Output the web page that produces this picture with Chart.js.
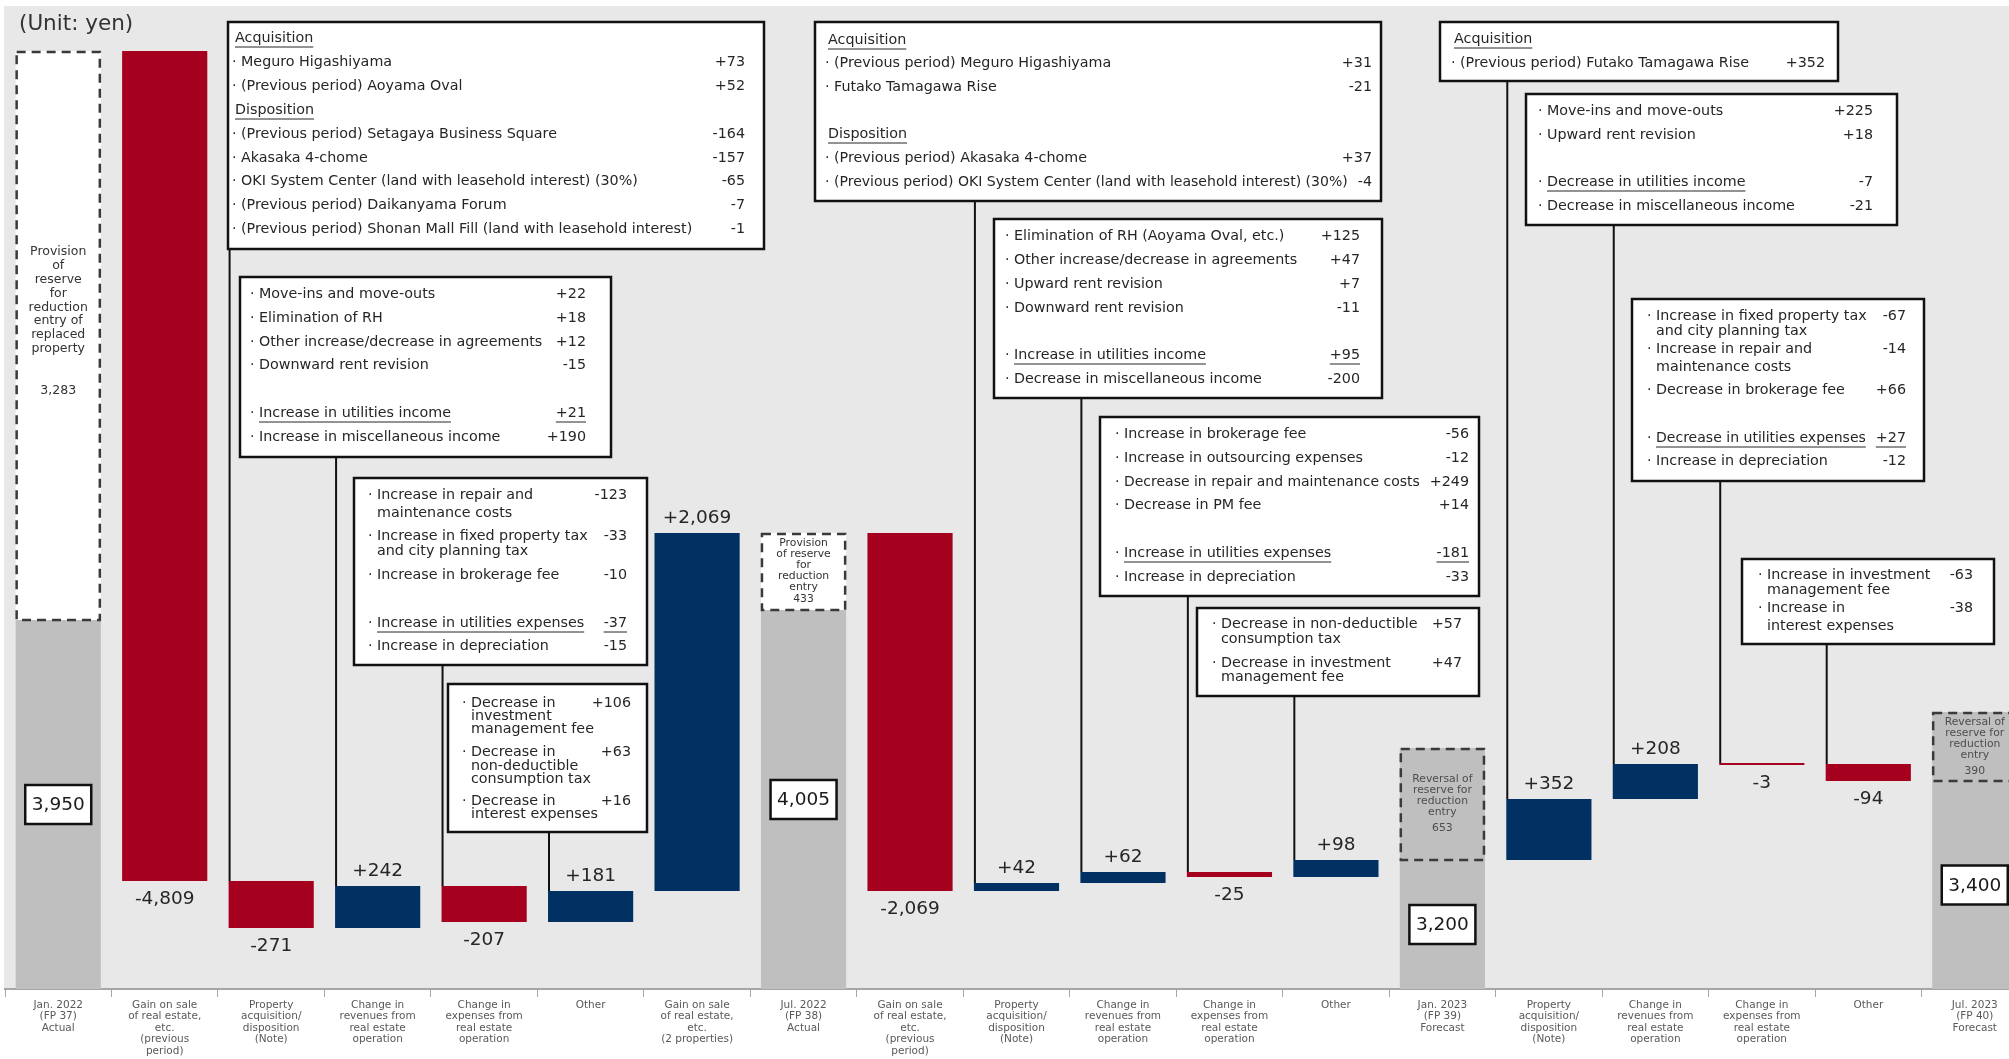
<!DOCTYPE html>
<html>
<head>
<meta charset="utf-8">
<script src="https://cdn.jsdelivr.net/npm/chart.js@4/dist/chart.umd.min.js"></script>
<style>
  body { margin: 0; background: #fff; overflow: hidden; }
  #wrap { width: 2028px; height: 1059px; }
  canvas { display: block; }
</style>
</head>
<body>
<div id="wrap"><canvas id="chart" width="2028" height="1059"></canvas></div>
<script>
// --- data ---
const categories = [
    ['Jan. 2022', '(FP 37)', 'Actual'],
    ['Gain on sale', 'of real estate,', 'etc.', '(previous', 'period)'],
    ['Property', 'acquisition/', 'disposition', '(Note)'],
    ['Change in', 'revenues from', 'real estate', 'operation'],
    ['Change in', 'expenses from', 'real estate', 'operation'],
    ['Other'],
    ['Gain on sale', 'of real estate,', 'etc.', '(2 properties)'],
    ['Jul. 2022', '(FP 38)', 'Actual'],
    ['Gain on sale', 'of real estate,', 'etc.', '(previous', 'period)'],
    ['Property', 'acquisition/', 'disposition', '(Note)'],
    ['Change in', 'revenues from', 'real estate', 'operation'],
    ['Change in', 'expenses from', 'real estate', 'operation'],
    ['Other'],
    ['Jan. 2023', '(FP 39)', 'Forecast'],
    ['Property', 'acquisition/', 'disposition', '(Note)'],
    ['Change in', 'revenues from', 'real estate', 'operation'],
    ['Change in', 'expenses from', 'real estate', 'operation'],
    ['Other'],
    ['Jul. 2023', '(FP 40)', 'Forecast']
];

// distribution per unit (yen)
const totals   = [3950, null, null, null, null, null, null, 4005, null, null, null, null, null, 3200, null, null, null, null, 3400];
const deltas   = [null, -4809, -271, 242, -207, 181, 2069, null, -2069, 42, 62, -25, 98, null, 352, 208, -3, -94, null];
const reserves = [3283, null, null, null, null, null, null, 433, null, null, null, null, null, 653, null, null, null, null, 390];

// the picture is not drawn to scale: drawn levels of every bar
const barLow      = [0, 108, 61, 61, 67, 67, 98, 0, 98, 98, 106, 112, 112, 0, 129, 190, 224, 208, 0];
const barHigh     = [369, 938, 108, 103, 103, 98, 456, 379, 456, 106, 117, 117, 129, 129, 190, 225, 226, 225, 208];
const reserveLow  = [369, null, null, null, null, null, null, 379, null, null, null, null, null, 129, null, null, null, null, 208];
const reserveHigh = [938, null, null, null, null, null, null, 456, null, null, null, null, null, 241, null, null, null, null, 277];

const reserveCaptions = {
    0: ['Provision', 'of', 'reserve', 'for', 'reduction', 'entry of', 'replaced', 'property'],
    7: ['Provision', 'of reserve', 'for', 'reduction', 'entry'],
    13: ['Reversal of', 'reserve for', 'reduction', 'entry'],
    18: ['Reversal of', 'reserve for', 'reduction', 'entry']
};

const RED = '#a6001f', BLUE = '#003162', GREY = '#bfbfbf';
const FONT = '"DejaVu Sans", Verdana, sans-serif';

// breakdown boxes: [y, text, value, flag]  h = heading, c = continued line, u = underline text, U = underline text+value
const boxes = [
    { bar: 2, x: 228, y: 22, w: 536, h: 227, bx: 232, vx: 745, rows: [
        [38, 'Acquisition', '', 'h'],
        [62, 'Meguro Higashiyama', '+73'],
        [86, '(Previous period) Aoyama Oval', '+52'],
        [110, 'Disposition', '', 'h'],
        [134, '(Previous period) Setagaya Business Square', '-164'],
        [158, 'Akasaka 4-chome', '-157'],
        [181, 'OKI System Center (land with leasehold interest) (30%)', '-65'],
        [205, '(Previous period) Daikanyama Forum', '-7'],
        [229, '(Previous period) Shonan Mall Fill (land with leasehold interest)', '-1']
    ]},
    { bar: 3, x: 240, y: 277, w: 371, h: 180, bx: 250, vx: 586, rows: [
        [294, 'Move-ins and move-outs', '+22'],
        [318, 'Elimination of RH', '+18'],
        [342, 'Other increase/decrease in agreements', '+12'],
        [365, 'Downward rent revision', '-15'],
        [413, 'Increase in utilities income', '+21', 'U'],
        [437, 'Increase in miscellaneous income', '+190']
    ]},
    { bar: 4, x: 354, y: 478, w: 293, h: 187, bx: 368, vx: 627, rows: [
        [495, 'Increase in repair and', '-123'],
        [513, 'maintenance costs', '', 'c'],
        [536, 'Increase in fixed property tax', '-33'],
        [551, 'and city planning tax', '', 'c'],
        [575, 'Increase in brokerage fee', '-10'],
        [623, 'Increase in utilities expenses', '-37', 'U'],
        [646, 'Increase in depreciation', '-15']
    ]},
    { bar: 5, x: 448, y: 684, w: 199, h: 148, bx: 462, vx: 631, rows: [
        [703, 'Decrease in', '+106'],
        [716, 'investment', '', 'c'],
        [729, 'management fee', '', 'c'],
        [752, 'Decrease in', '+63'],
        [766, 'non-deductible', '', 'c'],
        [779, 'consumption tax', '', 'c'],
        [801, 'Decrease in', '+16'],
        [814, 'interest expenses', '', 'c']
    ]},
    { bar: 9, x: 815, y: 22, w: 566, h: 179, bx: 825, vx: 1372, rows: [
        [40, 'Acquisition', '', 'h'],
        [63, '(Previous period) Meguro Higashiyama', '+31'],
        [87, 'Futako Tamagawa Rise', '-21'],
        [134, 'Disposition', '', 'h'],
        [158, '(Previous period) Akasaka 4-chome', '+37'],
        [182, '(Previous period) OKI System Center (land with leasehold interest) (30%)', '-4']
    ]},
    { bar: 10, x: 994, y: 219, w: 388, h: 179, bx: 1005, vx: 1360, rows: [
        [236, 'Elimination of RH (Aoyama Oval, etc.)', '+125'],
        [260, 'Other increase/decrease in agreements', '+47'],
        [284, 'Upward rent revision', '+7'],
        [308, 'Downward rent revision', '-11'],
        [355, 'Increase in utilities income', '+95', 'U'],
        [379, 'Decrease in miscellaneous income', '-200']
    ]},
    { bar: 11, x: 1100, y: 417, w: 379, h: 179, bx: 1115, vx: 1469, rows: [
        [434, 'Increase in brokerage fee', '-56'],
        [458, 'Increase in outsourcing expenses', '-12'],
        [482, 'Decrease in repair and maintenance costs', '+249'],
        [505, 'Decrease in PM fee', '+14'],
        [553, 'Increase in utilities expenses', '-181', 'U'],
        [577, 'Increase in depreciation', '-33']
    ]},
    { bar: 12, x: 1197, y: 608, w: 282, h: 88, bx: 1212, vx: 1462, rows: [
        [624, 'Decrease in non-deductible', '+57'],
        [639, 'consumption tax', '', 'c'],
        [663, 'Decrease in investment', '+47'],
        [677, 'management fee', '', 'c']
    ]},
    { bar: 14, x: 1440, y: 22, w: 398, h: 59, bx: 1451, vx: 1825, rows: [
        [39, 'Acquisition', '', 'h'],
        [63, '(Previous period) Futako Tamagawa Rise', '+352']
    ]},
    { bar: 15, x: 1526, y: 94, w: 371, h: 131, bx: 1538, vx: 1873, rows: [
        [111, 'Move-ins and move-outs', '+225'],
        [135, 'Upward rent revision', '+18'],
        [182, 'Decrease in utilities income', '-7', 'u'],
        [206, 'Decrease in miscellaneous income', '-21']
    ]},
    { bar: 16, x: 1632, y: 299, w: 292, h: 182, bx: 1647, vx: 1906, rows: [
        [316, 'Increase in fixed property tax', '-67'],
        [331, 'and city planning tax', '', 'c'],
        [349, 'Increase in repair and', '-14'],
        [367, 'maintenance costs', '', 'c'],
        [390, 'Decrease in brokerage fee', '+66'],
        [438, 'Decrease in utilities expenses', '+27', 'U'],
        [461, 'Increase in depreciation', '-12']
    ]},
    { bar: 17, x: 1742, y: 559, w: 252, h: 85, bx: 1758, vx: 1973, rows: [
        [575, 'Increase in investment', '-63'],
        [590, 'management fee', '', 'c'],
        [608, 'Increase in', '-38'],
        [626, 'interest expenses', '', 'c']
    ]}
];

const fmt = v => (v > 0 ? '+' : '') + v.toLocaleString('en-US');

const barColors = barLow.map((_, i) => totals[i] != null ? GREY : (deltas[i] < 0 ? RED : BLUE));
const reserveColors = reserves.map((r, i) => (i === 0 || i === 7) ? '#ffffff' : GREY);

function underline(ctx, x, y, w) {
    ctx.save();
    ctx.lineWidth = 1;
    ctx.strokeStyle = ctx.fillStyle;
    ctx.beginPath(); ctx.moveTo(x, y + 9); ctx.lineTo(x + w, y + 9); ctx.stroke();
    ctx.restore();
}

const backdrop = {
    id: 'backdrop',
    beforeDraw(chart) {
        const { ctx, chartArea: a } = chart;
        ctx.save();
        ctx.fillStyle = '#fff';
        ctx.fillRect(0, 0, chart.width, chart.height);
        ctx.fillStyle = '#e8e8e8';
        ctx.fillRect(a.left - 1, a.top, a.right - a.left + 1, a.bottom - a.top);
        ctx.restore();
    }
};

const annotate = {
    id: 'annotate',
    afterDatasetsDraw(chart) {
        const { ctx } = chart;
        const bars = chart.getDatasetMeta(0).data;
        const res = chart.getDatasetMeta(1).data;
        ctx.save();

        // unit
        ctx.fillStyle = '#333';
        ctx.font = '21.5px ' + FONT;
        ctx.textBaseline = 'middle';
        ctx.textAlign = 'left';
        ctx.fillText('(Unit: yen)', 19, 24);

        // reserve boxes (dashed)
        reserves.forEach((r, i) => {
            if (r == null) return;
            const el = res[i];
            const top = Math.min(el.y, el.base), bot = Math.max(el.y, el.base);
            const left = el.x - el.width / 2;
            ctx.save();
            ctx.setLineDash([9, 6]);
            ctx.lineWidth = 2.5;
            ctx.strokeStyle = '#3a3a3a';
            ctx.strokeRect(left + 1, top + 1, el.width - 2, bot - top - 1);
            ctx.restore();

            const cap = reserveCaptions[i];
            const big = i === 0;
            const size = big ? 12.5 : 10.8, lh = big ? 13.8 : 11, gap = big ? 42 : (i === 7 ? 12 : 16);
            const blockH = (cap.length - 1) * lh + gap;
            let y = (top + bot) / 2 - blockH / 2 - (big ? 14 : 0);
            ctx.fillStyle = (i === 0 || i === 7) ? '#333' : '#4d4d4d';
            ctx.font = size + 'px ' + FONT;
            ctx.textAlign = 'center';
            cap.forEach(t => { ctx.fillText(t, el.x, y, el.width - 8); y += lh; });
            ctx.fillText(r.toLocaleString('en-US'), el.x, y - lh + gap);
        });

        // totals
        totals.forEach((t, i) => {
            if (t == null) return;
            const el = bars[i];
            const cy = (el.y + el.base) / 2;
            let cx = el.x;
            const w = 66, h = 39;
            if (cx + w / 2 > chart.width - 2) cx = chart.width - 2 - w / 2;
            ctx.fillStyle = '#fff';
            ctx.fillRect(cx - w / 2, cy - h / 2, w, h);
            ctx.lineWidth = 2.5;
            ctx.strokeStyle = '#111';
            ctx.strokeRect(cx - w / 2, cy - h / 2, w, h);
            ctx.fillStyle = '#1a1a1a';
            ctx.font = '18.5px ' + FONT;
            ctx.textAlign = 'center';
            ctx.fillText(t.toLocaleString('en-US'), cx, cy + 1);
        });

        // change labels
        ctx.font = '18.5px ' + FONT;
        ctx.fillStyle = '#262626';
        ctx.textAlign = 'center';
        deltas.forEach((d, i) => {
            if (d == null) return;
            const el = bars[i];
            const top = Math.min(el.y, el.base), bot = Math.max(el.y, el.base);
            ctx.fillText(fmt(d), el.x, d > 0 ? top - 15 : bot + 18);
        });

        // breakdown boxes
        boxes.forEach(b => {
            const el = bars[b.bar];
            const lx = el.x - el.width / 2 + 1;
            const top = Math.min(el.y, el.base);
            ctx.strokeStyle = '#111';
            ctx.lineWidth = 2;
            ctx.beginPath(); ctx.moveTo(lx, b.y + b.h); ctx.lineTo(lx, top); ctx.stroke();

            ctx.fillStyle = '#fff';
            ctx.fillRect(b.x, b.y, b.w, b.h);
            ctx.lineWidth = 2.5;
            ctx.strokeRect(b.x, b.y, b.w, b.h);

            ctx.font = '14.3px ' + FONT;
            ctx.fillStyle = '#262626';
            b.rows.forEach(([y, t, v, f]) => {
                f = f || '';
                let tx = b.bx + 9;
                if (f === 'h') tx = b.bx + 3;
                ctx.textAlign = 'right';
                let vw = 0;
                if (v) {
                    vw = ctx.measureText(v).width;
                    ctx.fillText(v, b.vx, y);
                    if (f === 'U') underline(ctx, b.vx - vw, y, vw);
                }
                ctx.textAlign = 'left';
                if (f !== 'h' && f !== 'c') ctx.fillText('·', b.bx, y);
                const limit = (v ? b.vx - vw - 10 : b.x + b.w - 6) - tx;
                const tw = Math.min(ctx.measureText(t).width, limit);
                ctx.fillText(t, tx, y, limit);
                if (f === 'h' || f === 'u' || f === 'U') underline(ctx, tx, y, tw);
            });
        });
        ctx.restore();
    }
};

new Chart(document.getElementById('chart'), {
    type: 'bar',
    data: {
        labels: categories,
        datasets: [
            {
                data: barLow.map((l, i) => [l, barHigh[i]]),
                backgroundColor: barColors,
                grouped: false,
                barPercentage: 0.8,
                categoryPercentage: 1.0,
                borderWidth: 0
            },
            {
                data: reserveLow.map((l, i) => l == null ? null : [l, reserveHigh[i]]),
                backgroundColor: reserveColors,
                grouped: false,
                barPercentage: 0.8,
                categoryPercentage: 1.0,
                borderWidth: 0
            }
        ]
    },
    options: {
        responsive: false,
        animation: false,
        layout: { padding: { left: 5, right: 0, top: 6, bottom: 0 } },
        plugins: { legend: { display: false }, tooltip: { enabled: false } },
        scales: {
            x: {
                offset: true,
                grid: { display: true, drawOnChartArea: false, drawTicks: true, tickLength: 8, color: '#a6a6a6', offset: true },
                border: { display: true, color: '#a6a6a6', width: 2 },
                ticks: {
                    color: '#595959',
                    font: { family: FONT, size: 10.5, lineHeight: 1.1 },
                    padding: 2,
                    maxRotation: 0,
                    autoSkip: false
                },
                afterFit: s => { s.height = 70; }
            },
            y: { display: false, min: 0, max: 983 }
        }
    },
    plugins: [backdrop, annotate]
});
</script>
</body>
</html>
